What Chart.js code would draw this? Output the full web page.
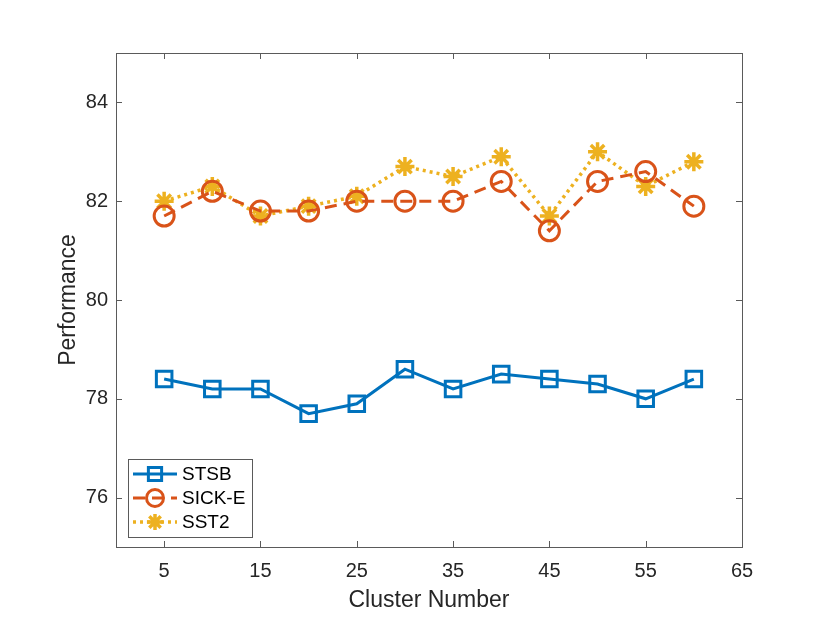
<!DOCTYPE html>
<html>
<head>
<meta charset="utf-8">
<script src="https://cdn.jsdelivr.net/npm/chart.js@4.4.0/dist/chart.umd.min.js"></script>
<style>
  html, body { margin: 0; padding: 0; background: #fff; }
  #wrap { width: 830px; height: 623px; }
</style>
</head>
<body>
<div id="wrap"><canvas id="perfCanvas" width="830" height="623"></canvas></div>
<script>
// cluster numbers on the x axis
const CLUSTERS = [5, 10, 15, 20, 25, 30, 35, 40, 45, 50, 55, 60];
const STSB   = [78.4, 78.2, 78.2, 77.7, 77.9, 78.6, 78.2, 78.5, 78.4, 78.3, 78.0, 78.4];
const SICK_E = [81.7, 82.2, 81.8, 81.8, 82.0, 82.0, 82.0, 82.4, 81.4, 82.4, 82.6, 81.9];
const SST2   = [82.0, 82.3, 81.7, 81.9, 82.1, 82.7, 82.5, 82.9, 81.7, 83.0, 82.3, 82.8];
const X_TICKS = [5, 15, 25, 35, 45, 55, 65];
const Y_TICKS = [76, 78, 80, 82, 84];

const FONT = 'Liberation Sans, Arial, Helvetica, sans-serif';
const AXIS_COLOR = '#5a5a5a';
const TEXT_COLOR = '#262626';

const toPoints = ys => CLUSTERS.map((x, i) => ({ x, y: ys[i] }));

const datasets = [
  {
    label: 'STSB', data: toPoints(STSB),
    borderColor: '#0072BD', borderWidth: 3,
    pointStyle: 'rect', pointRadius: 11, pointBorderWidth: 3,
    pointBackgroundColor: 'rgba(0,0,0,0)', pointBorderColor: '#0072BD',
  },
  {
    label: 'SICK-E', data: toPoints(SICK_E),
    borderColor: '#D95319', borderWidth: 3, borderDash: [12, 7],
    pointStyle: 'circle', pointRadius: 10, pointBorderWidth: 3,
    pointBackgroundColor: 'rgba(0,0,0,0)', pointBorderColor: '#D95319',
  },
  {
    label: 'SST2', data: toPoints(SST2),
    borderColor: '#EDB120', borderWidth: 3.5, borderDash: [3, 4],
    pointStyle: 'star', pointRadius: 9.5, pointBorderWidth: 3.5,
    pointBackgroundColor: '#EDB120', pointBorderColor: '#EDB120',
  },
];

// MATLAB-like box with inward ticks, plus legend in the lower-left corner
const matlabBox = {
  id: 'matlabBox',
  afterDraw(chart) {
    const { ctx, chartArea: a, scales } = chart;
    const tick = 6;
    ctx.save();
    ctx.strokeStyle = AXIS_COLOR;
    ctx.lineWidth = 1;
    ctx.setLineDash([]);
    ctx.strokeRect(a.left + 0.5, a.top + 0.5, a.right - a.left, a.bottom - a.top);
    ctx.beginPath();
    X_TICKS.forEach(v => {
      const px = Math.round(scales.x.getPixelForValue(v)) + 0.5;
      ctx.moveTo(px, a.bottom); ctx.lineTo(px, a.bottom - tick);
      ctx.moveTo(px, a.top); ctx.lineTo(px, a.top + tick);
    });
    Y_TICKS.forEach(v => {
      const py = Math.round(scales.y.getPixelForValue(v)) + 0.5;
      ctx.moveTo(a.left, py); ctx.lineTo(a.left + tick, py);
      ctx.moveTo(a.right, py); ctx.lineTo(a.right - tick, py);
    });
    ctx.stroke();

    // legend
    const lx = a.left + 12, ly = a.bottom - 88, lw = 124, lh = 78;
    ctx.fillStyle = '#fff';
    ctx.fillRect(lx, ly, lw, lh);
    ctx.strokeStyle = AXIS_COLOR;
    ctx.strokeRect(lx + 0.5, ly + 0.5, lw, lh);
    ctx.font = '19px ' + FONT;
    ctx.textBaseline = 'middle';
    chart.data.datasets.forEach((ds, i) => {
      const ry = ly + 15 + i * 24;
      ctx.strokeStyle = ds.borderColor;
      ctx.lineWidth = ds.borderWidth;
      ctx.setLineDash(ds.borderDash || []);
      ctx.beginPath();
      ctx.moveTo(lx + 5, ry); ctx.lineTo(lx + 49, ry);
      ctx.stroke();
      ctx.setLineDash([]);
      ctx.lineWidth = ds.pointBorderWidth;
      ctx.strokeStyle = ds.pointBorderColor;
      ctx.fillStyle = ds.pointBackgroundColor;
      Chart.helpers.drawPoint(ctx, {
        pointStyle: ds.pointStyle, radius: ds.pointRadius * 0.85,
        rotation: 0, borderWidth: ds.pointBorderWidth,
      }, lx + 27, ry);
      ctx.fillStyle = '#000';
      ctx.fillText(ds.label, lx + 54, ry + 1);
    });
    ctx.restore();
  },
};

new Chart(document.getElementById('perfCanvas').getContext('2d'), {
  type: 'line',
  data: { datasets },
  plugins: [matlabBox],
  options: {
    responsive: false,
    animation: false,
    devicePixelRatio: 1,
    layout: { padding: { top: 53, right: 88, left: 0, bottom: 0 } },
    plugins: { legend: { display: false }, tooltip: { enabled: false } },
    elements: { line: { tension: 0, borderCapStyle: 'butt' } },
    scales: {
      x: {
        type: 'linear', min: 0, max: 65,
        afterBuildTicks: s => { s.ticks = X_TICKS.map(v => ({ value: v })); },
        afterFit: s => { s.height = 76; },
        grid: { display: false, drawTicks: false }, border: { display: false },
        ticks: { color: TEXT_COLOR, font: { family: FONT, size: 20 }, padding: 12, maxRotation: 0 },
        title: { display: true, text: 'Cluster Number', color: TEXT_COLOR,
                 font: { family: FONT, size: 23 }, padding: { top: 0, bottom: 9 } },
      },
      y: {
        type: 'linear', min: 75, max: 85,
        afterBuildTicks: s => { s.ticks = Y_TICKS.map(v => ({ value: v })); },
        afterFit: s => { s.width = 116; },
        grid: { display: false, drawTicks: false }, border: { display: false },
        ticks: { color: TEXT_COLOR, font: { family: FONT, size: 20 }, padding: 8 },
        title: { display: true, text: 'Performance', color: TEXT_COLOR,
                 font: { family: FONT, size: 23 }, padding: { top: 55, bottom: 0 } },
      },
    },
  },
});
</script>
</body>
</html>
